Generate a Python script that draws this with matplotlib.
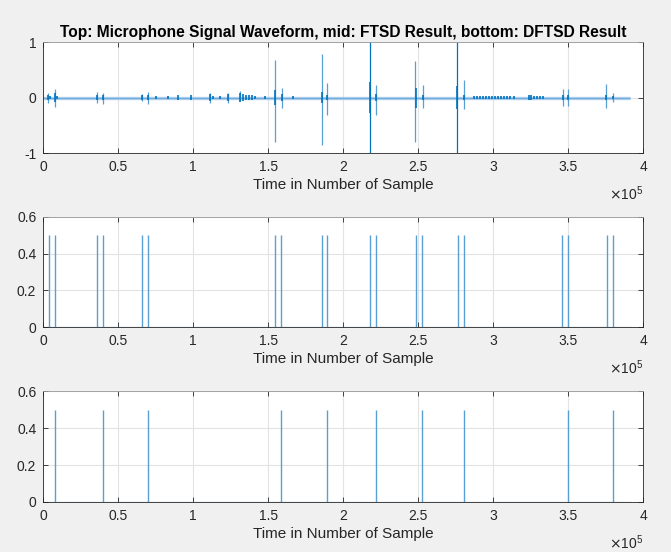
"""Microphone waveform with FTSD and DFTSD detections, MATLAB-style layout."""

import matplotlib

matplotlib.use("Agg")
import matplotlib.pyplot as plt
from matplotlib.ticker import FuncFormatter, MultipleLocator


SIGNAL_LEN = 391000  # samples

# waveform: thin outer spikes (sample, max, min)
SPIKE_POS = [3300, 7800, 35600, 39600, 65600, 69600, 111100, 123300, 131100,
             154500, 158900, 185600, 188900, 217800, 221800, 248000, 252900,
             276000, 280500, 346300, 350000, 375100, 379600]
SPIKE_HI = [0.09, 0.15, 0.10, 0.08, 0.07, 0.10, 0.08, 0.08, 0.12,
            0.68, 0.18, 0.79, 0.26, 1.0, 0.23, 0.65, 0.23,
            1.0, 0.32, 0.16, 0.16, 0.24, 0.08]
SPIKE_LO = [-0.09, -0.17, -0.10, -0.12, -0.07, -0.12, -0.10, -0.10, -0.06,
            -0.80, -0.18, -0.85, -0.31, -1.0, -0.32, -0.81, -0.19,
            -1.0, -0.20, -0.16, -0.16, -0.19, -0.08]

# waveform: dense burst cores (sample, half amplitude)
BURST_POS = [3300, 4500, 7800, 9000, 36000, 40000, 66000, 70000, 74900, 82900,
             89600, 98500, 111100, 113000, 117800, 123300, 131100, 133000,
             135000, 137000, 139000, 141000, 147800, 154800, 158900, 166300,
             185600, 188900, 218000, 221800, 248200, 253000, 276200, 280500,
             287000, 289000, 291000, 293000, 295000, 297000, 299000, 301000,
             303000, 305000, 307000, 309000, 311000, 314000, 324000, 325500,
             327000, 329000, 331000, 333000, 346300, 350000, 375100, 379600]
BURST_AMP = [0.05, 0.03, 0.08, 0.02, 0.05, 0.04, 0.04, 0.05, 0.03, 0.02,
             0.04, 0.05, 0.06, 0.03, 0.03, 0.06, 0.08, 0.06,
             0.05, 0.04, 0.04, 0.03, 0.02, 0.14, 0.06, 0.03,
             0.10, 0.05, 0.28, 0.06, 0.18, 0.05, 0.20, 0.05,
             0.03, 0.025, 0.03, 0.03, 0.025, 0.03, 0.03, 0.025,
             0.03, 0.03, 0.025, 0.03, 0.02, 0.02, 0.05, 0.04,
             0.03, 0.03, 0.03, 0.02, 0.05, 0.05, 0.04, 0.03]

# FTSD detections (value 0.5 at these samples)
FTSD_POS = [3800, 8000, 35800, 39800, 65600, 69600, 154400, 158400,
            185600, 189300, 217800, 221600, 248500, 252700, 276500, 280500,
            345800, 350000, 375600, 379800]
FTSD_VAL = [0.5] * len(FTSD_POS)

# DFTSD detections
DFTSD_POS = [8000, 39800, 69600, 158400, 189300, 221600, 252700, 280500,
             350000, 379800]
DFTSD_VAL = [0.5] * len(DFTSD_POS)

BLUE = "#0072BD"
LIGHT = "#5a9fd4"
AX_COL = "#262626"


def style_axes(ax, ylim, yticks, ylabels):
    ax.set_xlim(0, 400000)
    ax.set_ylim(*ylim)
    ax.xaxis.set_major_locator(MultipleLocator(50000))
    ax.xaxis.set_major_formatter(FuncFormatter(lambda v, _: f"{v / 1e5:g}"))
    ax.set_yticks(yticks, ylabels)
    ax.grid(True, color="#e3e3e3", linewidth=0.8)
    ax.set_axisbelow(True)
    ax.tick_params(direction="in", length=3.5, width=0.6, color=AX_COL,
                   top=True, right=True, labelsize=10, pad=5,
                   labelcolor=AX_COL)
    for spine in ax.spines.values():
        spine.set_color(AX_COL)
        spine.set_linewidth(0.6)
    ax.spines["top"].set_color("#9a9a9a")
    ax.set_xlabel("Time in Number of Sample", fontsize=11, color=AX_COL,
                  labelpad=3)
    ax.text(1.0, -0.28, r"$\times\mathregular{10^5}$", transform=ax.transAxes,
            ha="right", va="top", fontsize=10, color=AX_COL)


plt.rcParams["font.family"] = ["Liberation Sans", "DejaVu Sans"]
fig = plt.figure(figsize=(6.71, 5.52), dpi=100, facecolor="#f0f0f0")

ax1 = fig.add_axes([0.0645, 0.7228, 0.894, 0.201])
ax2 = fig.add_axes([0.0645, 0.407, 0.894, 0.2004])
ax3 = fig.add_axes([0.0645, 0.0906, 0.894, 0.2004])

# top: waveform
ax1.plot([0, SIGNAL_LEN], [0, 0], color="#a9cdea", linewidth=2.4,
         solid_capstyle="butt")
ax1.plot([0, SIGNAL_LEN], [0, 0], color=LIGHT, linewidth=0.5)
spike_cols = [BLUE if hi >= 1.0 else LIGHT for hi in SPIKE_HI]
ax1.vlines(SPIKE_POS, SPIKE_LO, SPIKE_HI, color=spike_cols, linewidth=0.9)
ax1.vlines(BURST_POS, [-a for a in BURST_AMP], BURST_AMP, color=BLUE,
           linewidth=1.2)
style_axes(ax1, (-1, 1), [-1, 0, 1], ["-1", "0", "1"])
ax1.set_title("Top: Microphone Signal Waveform, mid: FTSD Result, "
              "bottom: DFTSD Result", fontsize=11.2, fontweight="bold",
              color="black", pad=4)

# middle: FTSD
ax2.plot([0, SIGNAL_LEN], [0, 0], color=BLUE, linewidth=0.8)
ax2.vlines(FTSD_POS, 0, FTSD_VAL, color=LIGHT, linewidth=1.0)
style_axes(ax2, (0, 0.6), [0, 0.2, 0.4, 0.6], ["0", "0.2", "0.4", "0.6"])

# bottom: DFTSD
ax3.plot([0, SIGNAL_LEN], [0, 0], color=BLUE, linewidth=0.8)
ax3.vlines(DFTSD_POS, 0, DFTSD_VAL, color=LIGHT, linewidth=1.0)
style_axes(ax3, (0, 0.6), [0, 0.2, 0.4, 0.6], ["0", "0.2", "0.4", "0.6"])

fig.savefig("out.png", dpi=100, facecolor=fig.get_facecolor())
